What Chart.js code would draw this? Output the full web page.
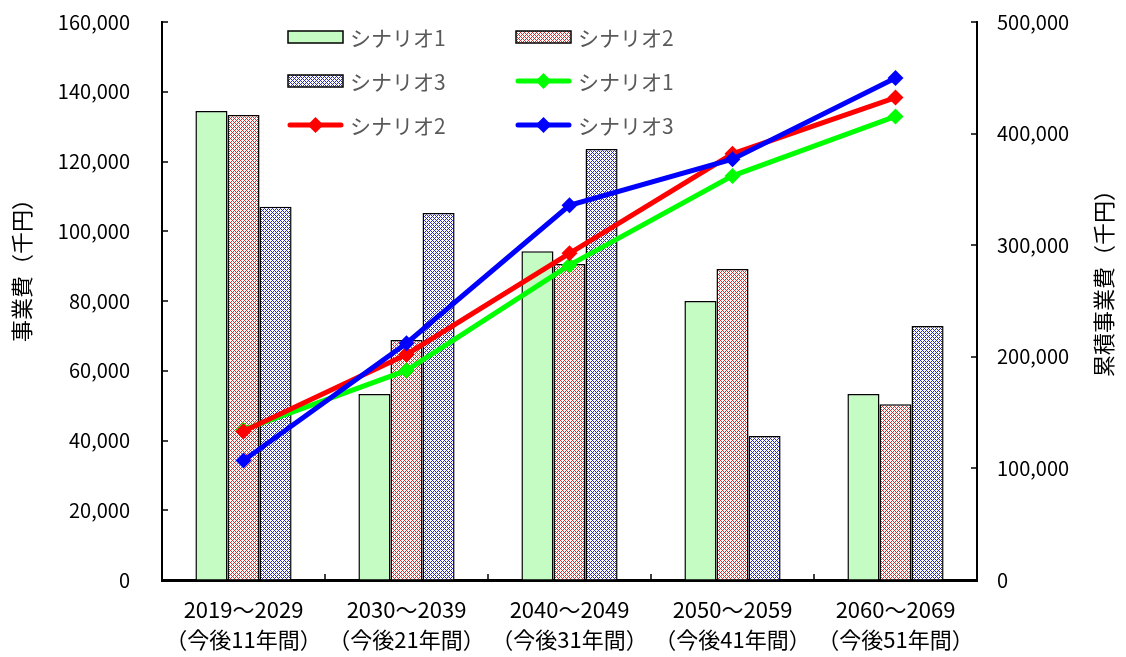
<!DOCTYPE html>
<html lang="ja">
<head>
<meta charset="utf-8">
<title>事業費・累積事業費</title>
<script src="https://cdn.jsdelivr.net/npm/chart.js@4"></script>
<style>
  html, body { margin: 0; padding: 0; background: #fff; }
  #wrap { width: 1126px; height: 657px; }
</style>
</head>
<body>
<div id="wrap"><canvas id="chart" width="1126" height="657"></canvas></div>
<script>
// Periods on the category axis (two lines per label)
const periods = ['2019～2029', '2030～2039', '2040～2049', '2050～2059', '2060～2069'];
const spans = ['（今後11年間）', '（今後21年間）', '（今後31年間）', '（今後41年間）', '（今後51年間）'];

// Series names
const scenarioNames = ['シナリオ1', 'シナリオ2', 'シナリオ3'];

// Project cost per period (thousand yen), left axis
const cost1 = [134500, 53300, 94300, 80000, 53300];
const cost2 = [133300, 68800, 90600, 89200, 50400];
const cost3 = [107000, 105200, 123600, 41300, 72800];

// Cumulative project cost (thousand yen), right axis
const cumulative1 = [134500, 187800, 282100, 362100, 415400];
const cumulative2 = [133300, 202100, 292700, 381900, 432300];
const cumulative3 = [107000, 212200, 335800, 377100, 449900];

// Axis ranges and titles
const leftMax = 160000, leftStep = 20000;
const rightMax = 500000, rightStep = 100000;
const leftTitle = '事業費（千円）';
const rightTitle = '累積事業費（千円）';

const FONT = "'Noto Sans CJK JP', 'Liberation Sans', sans-serif";

// Cross-hatch fill for the patterned bars
function hatch(color) {
  const c = document.createElement('canvas');
  c.width = 4; c.height = 4;
  const g = c.getContext('2d');
  g.fillStyle = '#ffffff';
  g.fillRect(0, 0, 4, 4);
  g.fillStyle = color;
  for (let y = 0; y < 4; y++) {
    for (let x = 0; x < 4; x++) {
      if ((x + y) % 4 === 0 || (x - y + 4) % 4 === 0) g.fillRect(x, y, 1, 1);
    }
  }
  return g.createPattern(c, 'repeat');
}

const ctx = document.getElementById('chart').getContext('2d');
const fills = ['#c4fcc4', hatch('#e02828'), hatch('#2828c8')];
const lineColors = ['#00ff00', '#ff0000', '#0000ff'];

const barSet = (i, data) => ({
  type: 'bar', label: scenarioNames[i], data, yAxisID: 'y',
  backgroundColor: fills[i], borderColor: '#000', borderWidth: 1.5,
  order: 10, categoryPercentage: 0.59, barPercentage: 1.0
});
const lineSet = (i, data) => ({
  type: 'line', label: scenarioNames[i], data, yAxisID: 'y1',
  borderColor: lineColors[i], backgroundColor: lineColors[i], borderWidth: 5,
  pointStyle: 'rectRot', pointRadius: 8, pointHoverRadius: 8, pointBorderWidth: 0,
  tension: 0, fill: false, order: 3 - i
});

// White page background
const background = {
  id: 'background',
  beforeDraw(chart) {
    const c = chart.ctx;
    c.save(); c.fillStyle = '#fff'; c.fillRect(0, 0, chart.width, chart.height); c.restore();
  }
};

// Tick marks pointing into the plot area
const innerTicks = {
  id: 'innerTicks',
  afterDatasetsDraw(chart) {
    const c = chart.ctx, a = chart.chartArea;
    const y = chart.scales.y, y1 = chart.scales.y1, x = chart.scales.x;
    c.save();
    c.strokeStyle = '#000'; c.lineWidth = 1.5;
    c.beginPath();
    y.ticks.forEach(t => { const p = Math.round(y.getPixelForValue(t.value)); c.moveTo(a.left, p); c.lineTo(a.left + 6, p); });
    y1.ticks.forEach(t => { const p = Math.round(y1.getPixelForValue(t.value)); c.moveTo(a.right, p); c.lineTo(a.right - 6, p); });
    for (let i = 1; i < x.ticks.length; i++) {
      const p = Math.round((x.getPixelForTick(i - 1) + x.getPixelForTick(i)) / 2);
      c.moveTo(p, a.bottom); c.lineTo(p, a.bottom - 6);
    }
    c.stroke();
    c.restore();
  }
};

// Rotated axis titles
const axisTitles = {
  id: 'axisTitles',
  afterDraw(chart) {
    const c = chart.ctx;
    c.save();
    c.fillStyle = '#000';
    c.font = '22px ' + FONT;
    c.textAlign = 'center'; c.textBaseline = 'middle';
    c.translate(22, 265); c.rotate(-Math.PI / 2); c.fillText(leftTitle, 0, 0);
    c.setTransform(1, 0, 0, 1, 0, 0);
    c.translate(1104, 278); c.rotate(-Math.PI / 2); c.fillText(rightTitle, 0, 0);
    c.restore();
  }
};

// Two-column legend inside the top of the plot
const gridLegend = {
  id: 'gridLegend',
  afterDraw(chart) {
    const c = chart.ctx;
    const cols = [288, 516], rows = [37, 81, 125];
    const sw = 55, gap = 7;
    c.save();
    c.font = '21px ' + FONT;
    c.textBaseline = 'middle'; c.textAlign = 'left';
    chart.data.datasets.forEach((ds, k) => {
      const x = cols[k % 2], yy = rows[Math.floor(k / 2)];
      if (ds.type === 'bar') {
        c.fillStyle = ds.backgroundColor;
        c.fillRect(x, yy - 6, sw, 12);
        c.strokeStyle = '#000'; c.lineWidth = 1.5;
        c.strokeRect(x, yy - 6, sw, 12);
      } else {
        c.strokeStyle = ds.borderColor; c.lineWidth = 5; c.lineCap = 'round';
        c.beginPath(); c.moveTo(x + 2, yy); c.lineTo(x + sw - 2, yy); c.stroke();
        c.fillStyle = ds.borderColor;
        c.beginPath();
        const cx = x + sw / 2, r = 8;
        c.moveTo(cx, yy - r); c.lineTo(cx + r, yy); c.lineTo(cx, yy + r); c.lineTo(cx - r, yy); c.closePath();
        c.fill();
      }
      c.fillStyle = '#595959';
      c.fillText(ds.label, x + sw + gap, yy + 1);
    });
    c.restore();
  }
};

// Fixed axis sizes; label overflow is not allowed to push the plot area
const fixWidth = w => s => { s.width = w; s.paddingTop = 0; s.paddingBottom = 0; };

new Chart(ctx, {
  data: {
    labels: periods.map((p, i) => [p, spans[i]]),
    datasets: [
      barSet(0, cost1), barSet(1, cost2), barSet(2, cost3),
      lineSet(0, cumulative1), lineSet(1, cumulative2), lineSet(2, cumulative3)
    ]
  },
  options: {
    responsive: false,
    animation: false,
    layout: { padding: { top: 22, left: 0, right: 0, bottom: 0 } },
    plugins: { legend: { display: false }, tooltip: { enabled: false }, title: { display: false } },
    scales: {
      x: {
        type: 'category', offset: true,
        grid: { display: true, drawOnChartArea: false, drawTicks: false },
        border: { display: true, color: '#000', width: 3 },
        ticks: { color: '#000', padding: 15, maxRotation: 0, autoSkip: false,
                 font: { family: FONT, size: 22, lineHeight: '30px' } },
        afterFit(s) { s.height = 77; s.paddingLeft = 0; s.paddingRight = 0; }
      },
      y: {
        position: 'left', min: 0, max: leftMax,
        grid: { display: true, drawOnChartArea: false, drawTicks: false },
        border: { display: true, color: '#000', width: 2 },
        ticks: { stepSize: leftStep, color: '#000', padding: 32,
                 font: { family: FONT, size: 20 },
                 callback: v => v.toLocaleString('en-US') },
        afterFit: fixWidth(162)
      },
      y1: {
        position: 'right', min: 0, max: rightMax,
        grid: { display: true, drawOnChartArea: false, drawTicks: false },
        border: { display: true, color: '#000', width: 2 },
        ticks: { stepSize: rightStep, color: '#000', padding: 20,
                 font: { family: FONT, size: 20 },
                 callback: v => v.toLocaleString('en-US') },
        afterFit: fixWidth(149)
      }
    }
  },
  plugins: [background, innerTicks, axisTitles, gridLegend]
});
</script>
</body>
</html>
